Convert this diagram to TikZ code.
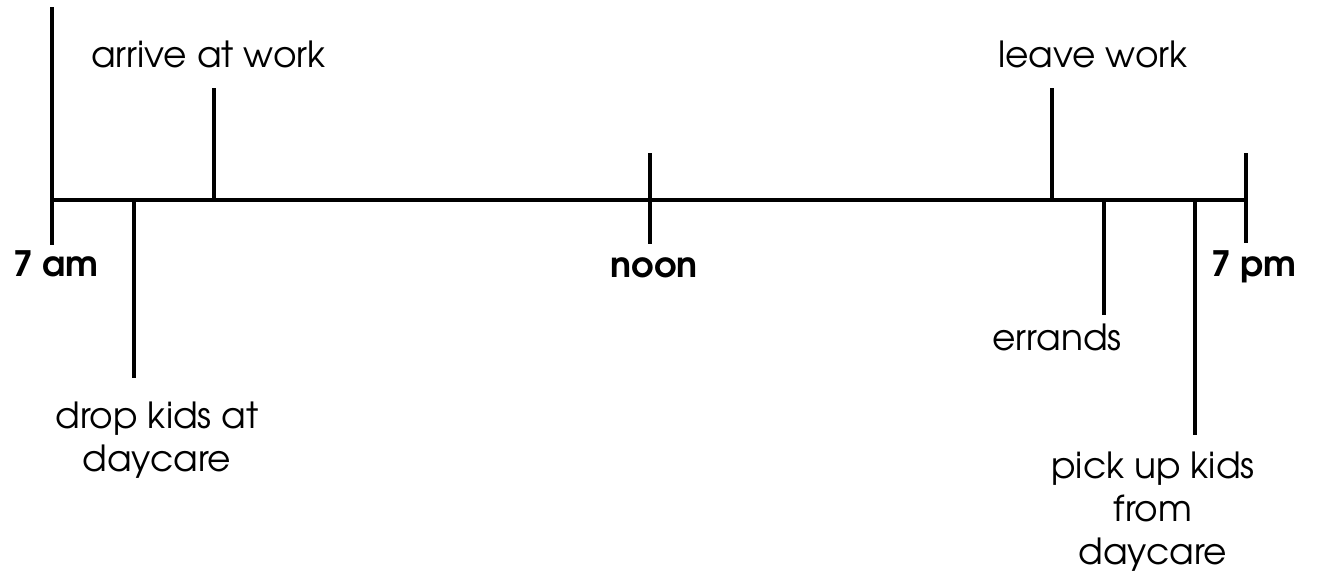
\documentclass[tikz,border=0pt]{standalone}
\usepackage{fontspec}
\setmainfont{TeX Gyre Adventor}
\begin{document}
\begin{tikzpicture}[x=1pt,y=-1pt,
  tick/.style={line width=4pt, line cap=rect},
  lbl/.style={font=\fontsize{36}{43}\selectfont, align=center, inner sep=0pt},
  blbl/.style={font=\fontsize{35}{43}\selectfont\bfseries, align=center, inner sep=0pt}]
\useasboundingbox (0,0) rectangle (1319,575);
% coordinates on the line
\coordinate (s) at (52,200);
\coordinate (e) at (1246,200);
\coordinate (sTop) at (52,9);
\coordinate (sBot) at (52,243);
\coordinate (dropOn) at (134,200);
\coordinate (dropEnd) at (134,376);
\coordinate (arrOn) at (214,200);
\coordinate (arrEnd) at (214,90);
\coordinate (noonTop) at (650,155);
\coordinate (noonBot) at (650,242);
\coordinate (leaveOn) at (1052,200);
\coordinate (leaveEnd) at (1052,90);
\coordinate (errOn) at (1104,200);
\coordinate (errEnd) at (1104,313);
\coordinate (pickOn) at (1195,200);
\coordinate (pickEnd) at (1195,433);
\coordinate (eTop) at (1246,155);
\coordinate (eBot) at (1246,241);
% lines
\draw[tick] (s) -- (e);
\draw[tick] (sTop) -- (sBot);
\draw[tick] (dropOn) -- (dropEnd);
\draw[tick] (arrOn) -- (arrEnd);
\draw[tick] (noonTop) -- (noonBot);
\draw[tick] (leaveOn) -- (leaveEnd);
\draw[tick] (errOn) -- (errEnd);
\draw[tick] (pickOn) -- (pickEnd);
\draw[tick] (eTop) -- (eBot);
% labels
\node[lbl, anchor=base] (arrive) at (208.5,68) {arrive at work};
\node[lbl, anchor=base] (leave) at (1093,68) {leave work};
\node[blbl, anchor=base] (am) at (56,276) {7 am};
\node[blbl, anchor=base] (noon) at (654,277) {noon};
\node[blbl, anchor=base] (pm) at (1254,276) {7 pm};
\node[lbl] (drop) at (157,440) {drop kids at\\daycare};
\node[lbl, anchor=base] (errands) at (1057,350) {errands};
\node[lbl] (pick) at (1153,512) {pick up kids\\from\\daycare};
\end{tikzpicture}
\end{document}
